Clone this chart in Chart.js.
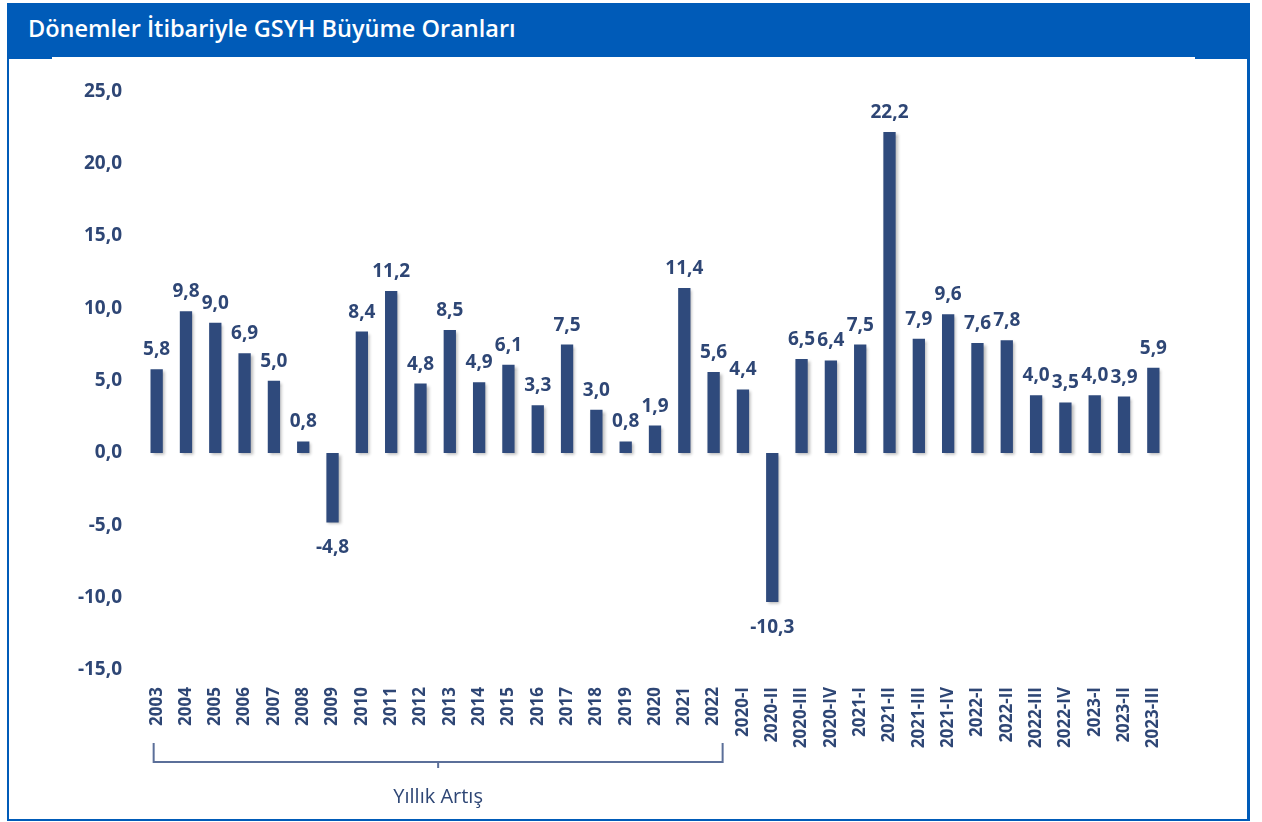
<!DOCTYPE html>
<html lang="tr">
<head>
<meta charset="utf-8">
<title>Dönemler İtibariyle GSYH Büyüme Oranları</title>
<script src="https://cdn.jsdelivr.net/npm/chart.js@4.4.1/dist/chart.umd.min.js"></script>
<style>
  html, body { margin: 0; padding: 0; background: #fff; }
  body { width: 1262px; height: 822px; position: relative; overflow: hidden; font-family: "Open Sans", sans-serif; }
  .frame { position: absolute; left: 7px; top: 3px; width: 1238px; height: 816px; border-left: 2px solid #005bb8; border-right: 3px solid #005bb8; border-bottom: 2px solid #005bb8; }
  .header { position: absolute; left: 7px; top: 3px; width: 1242px; height: 54px; background: #005bb8; }
  .notch-l { position: absolute; left: 7px; top: 57px; width: 45px; height: 2px; background: #005bb8; }
  .notch-r { position: absolute; left: 1195px; top: 57px; width: 54px; height: 2px; background: #005bb8; }
  .title { position: absolute; left: 28px; top: 11px; color: #fff; font-size: 24px; font-weight: 600; white-space: nowrap; transform-origin: left top; transform: scaleX(0.98); }
  #wrap { position: absolute; left: 0; top: 60px; width: 1262px; height: 762px; }
</style>
</head>
<body>
<div class="frame"></div>
<div class="header"></div>
<div class="notch-l"></div>
<div class="notch-r"></div>
<div class="title">Dönemler İtibariyle GSYH Büyüme Oranları</div>
<div id="wrap"><canvas id="myChart" width="1262" height="762"></canvas></div>
<script>
const periods = [
  '2003', '2004', '2005', '2006', '2007', '2008', '2009', '2010', '2011', '2012',
  '2013', '2014', '2015', '2016', '2017', '2018', '2019', '2020', '2021', '2022',
  '2020-I', '2020-II', '2020-III', '2020-IV',
  '2021-I', '2021-II', '2021-III', '2021-IV',
  '2022-I', '2022-II', '2022-III', '2022-IV',
  '2023-I', '2023-II', '2023-III'
];
const growth = [
  5.8, 9.8, 9.0, 6.9, 5.0, 0.8, -4.8, 8.4, 11.2, 4.8,
  8.5, 4.9, 6.1, 3.3, 7.5, 3.0, 0.8, 1.9, 11.4, 5.6,
  4.4, -10.3, 6.5, 6.4,
  7.5, 22.2, 7.9, 9.6,
  7.6, 7.8, 4.0, 3.5,
  4.0, 3.9, 5.9
];
const yTicks = [25, 20, 15, 10, 5, 0, -5, -10, -15];
const annualFirst = '2003';
const annualLast = '2022';
const annualLabel = 'Yıllık Artış';

const navy = '#2f4a7c';
const textNavy = '#2e4675';

const fmt = v => v.toFixed(1).replace('.', ',');

// soft shadow under the bars, like the original
const barShadow = {
  id: 'barShadow',
  beforeDatasetsDraw(chart) {
    const ctx = chart.ctx;
    ctx.save();
    ctx.shadowColor = 'rgba(0,0,0,0.28)';
    ctx.shadowBlur = 3;
    ctx.shadowOffsetX = 2;
    ctx.shadowOffsetY = 2;
  },
  afterDatasetsDraw(chart) {
    chart.ctx.restore();
  }
};

const valueLabels = {
  id: 'valueLabels',
  afterDatasetsDraw(chart) {
    const ctx = chart.ctx;
    const meta = chart.getDatasetMeta(0);
    ctx.save();
    ctx.font = 'bold 19px "Open Sans"';
    ctx.fillStyle = textNavy;
    ctx.textAlign = 'center';
    ctx.textBaseline = 'alphabetic';
    meta.data.forEach((bar, i) => {
      const v = growth[i];
      if (v >= 0) {
        ctx.fillText(fmt(v), bar.x, bar.y - 14);
      } else {
        ctx.fillText(fmt(v), bar.x, bar.y + 31);
      }
    });
    ctx.restore();
  }
};

const annualBracket = {
  id: 'annualBracket',
  afterDraw(chart) {
    const ctx = chart.ctx;
    const x = chart.scales.x;
    const x0 = x.getPixelForValue(periods.indexOf(annualFirst)) - 3;
    const x1 = x.getPixelForValue(periods.indexOf(annualLast)) + 9;
    const top = 683, y = 702;
    const mid = (x0 + x1) / 2;
    ctx.save();
    ctx.strokeStyle = '#5b6f99';
    ctx.lineWidth = 2;
    ctx.beginPath();
    ctx.moveTo(x0, top);
    ctx.lineTo(x0, y);
    ctx.lineTo(x1, y);
    ctx.lineTo(x1, top);
    ctx.moveTo(mid, y);
    ctx.lineTo(mid, y + 6);
    ctx.stroke();
    ctx.font = '20px "Open Sans"';
    ctx.fillStyle = textNavy;
    ctx.textAlign = 'center';
    ctx.textBaseline = 'middle';
    ctx.fillText(annualLabel, mid, 737);
    ctx.restore();
  }
};

const ctx = document.getElementById('myChart').getContext('2d');
const myChart = new Chart(ctx, {
  type: 'bar',
  data: {
    labels: periods,
    datasets: [{
      label: 'GSYH Büyüme',
      data: growth,
      backgroundColor: navy,
      borderWidth: 0,
      barPercentage: 0.84,
      categoryPercentage: 0.5
    }]
  },
  options: {
    responsive: false,
    animation: false,
    events: [],
    layout: { padding: { top: 29, left: 0, right: 94, bottom: 0 } },
    plugins: {
      legend: { display: false },
      tooltip: { enabled: false }
    },
    scales: {
      y: {
        min: -15,
        max: 25,
        afterFit: s => { s.width = 142; },
        afterBuildTicks: s => { s.ticks = yTicks.map(v => ({ value: v })); },
        grid: { display: false, drawTicks: false },
        border: { display: false },
        ticks: {
          padding: 20,
          color: textNavy,
          font: { family: 'Open Sans', weight: 'bold', size: 19 },
          callback: v => fmt(v)
        }
      },
      x: {
        afterFit: s => { s.height = 152; },
        grid: { display: false, drawTicks: false },
        border: { display: false },
        ticks: {
          autoSkip: false,
          minRotation: 90,
          maxRotation: 90,
          padding: 17,
          color: textNavy,
          font: { family: 'Open Sans', weight: 'bold', size: 17 }
        }
      }
    }
  },
  plugins: [barShadow, valueLabels, annualBracket]
});
</script>
</body>
</html>
